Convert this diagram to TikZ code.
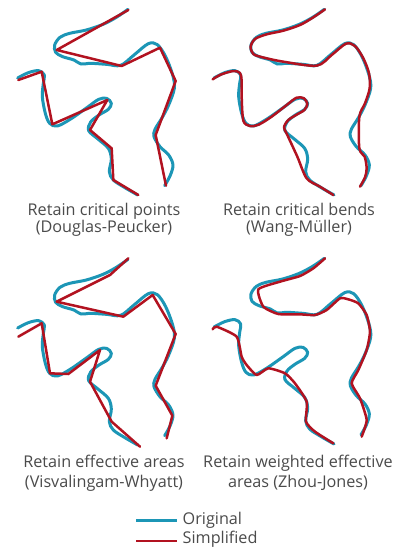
\documentclass[tikz,border=0pt]{standalone}
\usepackage{fontspec}
\setmainfont{Open Sans}
\definecolor{origblue}{RGB}{28,150,182}
\definecolor{simpred}{RGB}{178,18,32}
\definecolor{txtgray}{RGB}{75,75,75}
\tikzset{
  origline/.style={draw=origblue, line width=3.0pt, line cap=round, line join=round},
  simpline/.style={draw=simpred, line width=2.5pt, line cap=round, line join=round},
  caption/.style={align=center, text=txtgray, font=\fontsize{16.2}{17}\selectfont, inner sep=0pt},
  captionlow/.style={align=center, text=txtgray, font=\fontsize{16.2}{20}\selectfont, inner sep=0pt},
  legtext/.style={anchor=west, text=txtgray, font=\fontsize{16.2}{16}\selectfont, inner sep=0pt},
  zoomframe/.style={x=0.33333pt, y=-0.33333pt}
}
\newcommand\drawOrig{%
  \draw[origline] plot[smooth, tension=0.55] coordinates {(384,28) (349,52) (309,73) (259,90) (209,100) (180,112) (164,135) (167,157) (188,170) (222,180) (243,192) (272,190) (320,193) (362,196) (402,165) (445,131) (472,134) (497,170) (518,225) (523,265) (506,315) (487,352) (465,388) (462,410) (480,440) (506,465) (519,495) (510,528) (494,557)};
  \draw[origline] plot[smooth, tension=0.55] coordinates {(53,234) (85,218) (116,212) (133,225) (130,250) (127,290) (136,340) (149,370) (172,378) (212,357) (262,322) (296,298) (320,295) (334,310) (325,328) (297,345) (272,366) (266,392) (295,418) (325,445) (334,477) (328,515) (340,540) (373,562) (413,585)};
}
\begin{document}
\begin{tikzpicture}[x=1pt, y=-1pt]
\useasboundingbox (0,0) rectangle (394,552);
\fill[white] (0,0) rectangle (394,552);

% Panel 1: Douglas-Peucker
\begin{scope}[zoomframe]
  \drawOrig
  \draw[simpline] (385,30) -- (170,150) -- (365,198) -- (480,143) -- (527,243) -- (467,405) -- (498,557);
  \draw[simpline] (55,240) -- (125,215) -- (157,373) -- (322,300) -- (270,390) -- (335,445) -- (340,540) -- (415,585);
\end{scope}

% Panel 2: Wang-Mueller
\begin{scope}[shift={(200,0)}, zoomframe]
  \begin{scope}[shift={(-11,0)}]\drawOrig\end{scope}
  \draw[simpline] plot[smooth, tension=0.5] coordinates {(375,28) (340,52) (300,75) (250,92) (200,103) (165,117) (152,140) (160,162) (188,172) (250,185) (350,197) (395,165) (438,131) (465,138) (490,175) (507,220) (509,265) (495,310) (478,350) (478,445) (494,470) (500,505) (495,532) (480,560)};
  \draw[simpline] plot[smooth, tension=0.5] coordinates {(38,238) (62,224) (100,213) (120,219) (125,242) (125,290) (130,362) (150,378) (176,374) (215,350) (260,315) (290,293) (312,295) (322,312) (313,330) (290,344) (265,360) (252,382) (262,405) (292,470) (320,535) (360,560) (400,585)};
\end{scope}

% Panel 3: Visvalingam-Whyatt
\begin{scope}[shift={(0,240)}, zoomframe]
  \begin{scope}[shift={(0,30)}]\drawOrig\end{scope}
  \draw[simpline] (385,55) -- (330,105) -- (170,185) -- (370,230) -- (458,165) -- (527,282) -- (467,437) -- (517,527) -- (500,595);
  \draw[simpline] (55,290) -- (125,250) -- (150,400) -- (205,402) -- (300,330) -- (270,425) -- (335,545) -- (420,620);
\end{scope}

% Panel 4: Zhou-Jones
\begin{scope}[shift={(200,240)}, zoomframe]
  \begin{scope}[shift={(-11,27)}]\drawOrig\end{scope}
  \draw[simpline] plot[smooth, tension=0.35] coordinates {(375,55) (340,85) (300,108) (240,125) (175,148) (190,200) (235,222) (300,223) (345,225) (380,210) (420,175) (445,178) (475,190) (500,225) (510,275) (500,330) (475,390) (455,430) (480,475) (500,540) (485,590)};
  \draw[simpline] plot[smooth, tension=0.35] coordinates {(38,268) (50,260) (110,290) (125,350) (140,375) (170,405) (205,385) (255,400) (285,430) (320,485) (318,545) (345,575) (400,610)};
\end{scope}

% Captions
\node[caption] (cap1) at (104,220) {Retain critical points\\(Douglas-Peucker)};
\node[caption] (cap2) at (299,220) {Retain critical bends\\(Wang-M\"uller)};
\node[captionlow] (cap3) at (104,473) {Retain effective areas\\(Visvalingam-Whyatt)};
\node[captionlow] (cap4) at (298,473) {Retain weighted effective\\areas (Zhou-Jones)};

% Legend
\node[legtext] (lorig) at (182.5,520) {Original};
\node[legtext] (lsimp) at (182.5,539) {Simplified};
\coordinate (lo1) at (136,520.7);
\coordinate (ls1) at (136,541);
\draw[origline, line cap=butt] (lo1) -- ([xshift=-6pt]lo1 -| lorig.west);
\draw[simpline, line width=2.8pt, line cap=butt] (ls1) -- ([xshift=-6pt]ls1 -| lsimp.west);
\end{tikzpicture}
\end{document}
